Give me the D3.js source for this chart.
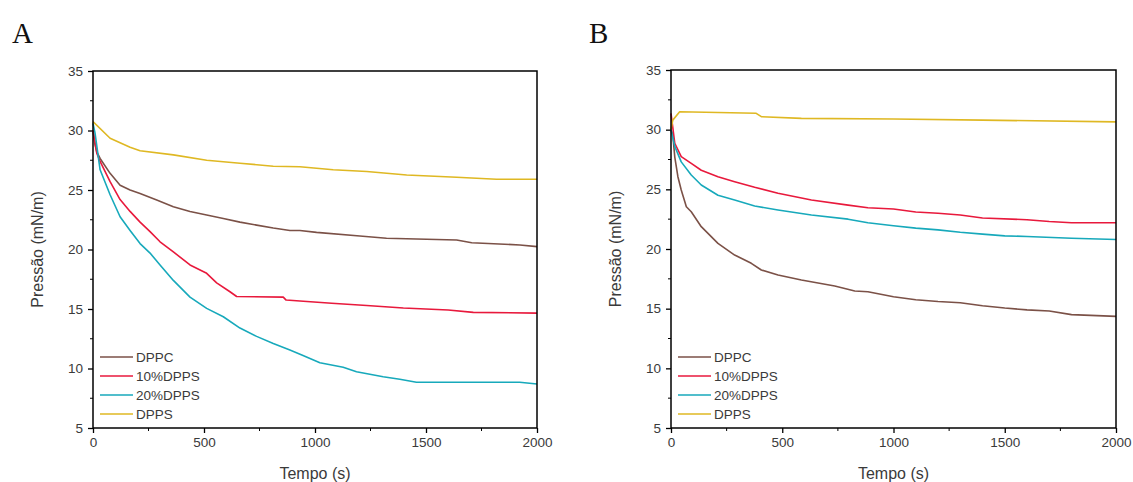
<!DOCTYPE html>
<html>
<head>
<meta charset="utf-8">
<script src="https://cdn.jsdelivr.net/npm/d3@7"></script>
<style>
  body { margin: 0; background: #fff; }
  svg { display: block; }
</style>
</head>
<body>
<svg id="chart" width="1133" height="482"></svg>
<script>
// series names, colours, axis ticks
var seriesNames = ["DPPC", "10%DPPS", "20%DPPS", "DPPS"];
var seriesColors = ["#7b5147", "#e8193c", "#17a9bb", "#dfb823"];
var xTicks = [0, 500, 1000, 1500, 2000];
var yTicks = [5, 10, 15, 20, 25, 30, 35];

// panel A  [tempo (s), pressao (mN/m)]
var A_DPPC = [[0,30.0],[8,28.9],[17,28.2],[32,27.65],[77,26.4],[122,25.4],[167,25.0],[212,24.7],[287,24.15],[362,23.6],[437,23.2],[512,22.9],[587,22.6],[662,22.3],[737,22.05],[812,21.8],[887,21.6],[932,21.6],[1007,21.44],[1202,21.13],[1322,20.94],[1638,20.8],[1706,20.57],[1923,20.38],[2000,20.24]];
var A_10DPPS = [[0,30.0],[17,28.1],[32,27.4],[77,25.7],[122,24.2],[167,23.2],[212,22.3],[257,21.5],[302,20.65],[362,19.8],[437,18.7],[512,18.0],[557,17.2],[617,16.45],[647,16.05],[857,16.0],[870,15.75],[932,15.67],[1075,15.48],[1233,15.3],[1398,15.08],[1600,14.92],[1713,14.72],[2000,14.65]];
var A_20DPPS = [[0,30.6],[9,29.8],[32,26.7],[77,24.6],[122,22.75],[167,21.6],[212,20.5],[257,19.7],[302,18.7],[362,17.4],[437,16.0],[512,15.05],[587,14.35],[662,13.4],[737,12.7],[812,12.1],[887,11.55],[946,11.1],[1022,10.49],[1127,10.1],[1187,9.73],[1307,9.31],[1382,9.09],[1457,8.84],[1922,8.84],[2000,8.7]];
var A_DPPS = [[0,30.75],[77,29.35],[167,28.6],[212,28.3],[362,27.95],[512,27.5],[662,27.25],[812,27.0],[932,26.96],[1082,26.7],[1233,26.55],[1413,26.26],[1638,26.07],[1818,25.9],[2000,25.9]];

// panel B
var B_DPPC = [[0,30.0],[8,29.6],[17,27.7],[31,26.06],[46,24.94],[69,23.54],[91,23.12],[136,21.87],[211,20.47],[286,19.49],[361,18.8],[406,18.24],[481,17.82],[586,17.4],[736,16.9],[826,16.48],[885,16.42],[1000,16.0],[1100,15.75],[1200,15.6],[1300,15.5],[1400,15.25],[1500,15.05],[1600,14.9],[1700,14.8],[1800,14.5],[2000,14.35]];
var B_10DPPS = [[0,31.37],[17,28.86],[46,27.74],[91,27.18],[136,26.6],[211,26.06],[286,25.64],[376,25.17],[481,24.67],[631,24.1],[796,23.68],[885,23.46],[1000,23.35],[1100,23.1],[1200,23.0],[1300,22.85],[1400,22.6],[1600,22.45],[1700,22.3],[1800,22.2],[2000,22.2]];
var B_20DPPS = [[0,30.0],[17,28.6],[46,27.3],[91,26.2],[136,25.36],[211,24.5],[286,24.1],[376,23.6],[481,23.27],[631,22.85],[796,22.5],[885,22.2],[1000,21.95],[1100,21.75],[1200,21.6],[1300,21.4],[1400,21.25],[1500,21.1],[1600,21.05],[1800,20.9],[2000,20.8]];
var B_DPPS = [[0,30.0],[8,30.8],[39,31.5],[383,31.37],[406,31.09],[586,30.95],[1000,30.9],[1400,30.8],[2000,30.65]];

var panels = [
  { letter: "A", lx: 12, left: 93, right: 537, top: 71, bottom: 428, data: [A_DPPC, A_10DPPS, A_20DPPS, A_DPPS] },
  { letter: "B", lx: 589, left: 671, right: 1116, top: 70, bottom: 428, data: [B_DPPC, B_10DPPS, B_20DPPS, B_DPPS] }
];

var svg = d3.select("#chart");
var textColor = "#3a3a3a";

panels.forEach(function (p) {
  var x = d3.scaleLinear().domain([0, 2000]).range([p.left, p.right]);
  var y = d3.scaleLinear().domain([5, 35]).range([p.bottom, p.top]);

  // panel letter
  svg.append("text")
    .attr("x", p.lx).attr("y", 43)
    .attr("font-family", "Liberation Serif, serif")
    .attr("font-size", 29)
    .attr("fill", "#111")
    .text(p.letter);

  // minor ticks
  var g = svg.append("g");
  g.selectAll(".mx").data(d3.range(250, 2000, 500)).enter().append("line")
    .attr("x1", function (d) { return x(d); }).attr("x2", function (d) { return x(d); })
    .attr("y1", p.bottom).attr("y2", p.bottom + 3)
    .attr("stroke", "#000").attr("stroke-width", 1);
  g.selectAll(".my").data(d3.range(7.5, 35, 5)).enter().append("line")
    .attr("y1", function (d) { return y(d); }).attr("y2", function (d) { return y(d); })
    .attr("x1", p.left).attr("x2", p.left - 3)
    .attr("stroke", "#000").attr("stroke-width", 1);

  // X axis
  var gx = svg.append("g")
    .attr("transform", "translate(0," + p.bottom + ")")
    .call(d3.axisBottom(x).tickValues(xTicks).tickFormat(d3.format("d"))
      .tickSize(5).tickPadding(4).tickSizeOuter(0));
  // Y axis
  var gy = svg.append("g")
    .attr("transform", "translate(" + p.left + ",0)")
    .call(d3.axisLeft(y).tickValues(yTicks).tickFormat(d3.format("d"))
      .tickSize(5).tickPadding(5).tickSizeOuter(0));

  [gx, gy].forEach(function (a) {
    a.select(".domain").remove();
    a.selectAll(".tick line").attr("stroke", "#000").attr("stroke-width", 1.3);
    a.selectAll(".tick text")
      .attr("fill", textColor)
      .attr("font-family", "Liberation Sans, Arial, sans-serif")
      .attr("font-size", 13.5);
  });

  // lines
  var line = d3.line()
    .x(function (d) { return x(d[0]); })
    .y(function (d) { return y(d[1]); });

  p.data.forEach(function (s, i) {
    svg.append("path")
      .attr("fill", "none")
      .attr("stroke", seriesColors[i])
      .attr("stroke-width", 1.6)
      .attr("stroke-linejoin", "round")
      .attr("d", line(s));
  });

  // frame
  svg.append("rect")
    .attr("x", p.left).attr("y", p.top)
    .attr("width", p.right - p.left).attr("height", p.bottom - p.top)
    .attr("fill", "none").attr("stroke", "#000").attr("stroke-width", 1.5);

  // axis titles
  svg.append("text")
    .attr("x", (p.left + p.right) / 2).attr("y", 479)
    .attr("text-anchor", "middle")
    .attr("font-family", "Liberation Sans, Arial, sans-serif")
    .attr("font-size", 16)
    .attr("fill", textColor)
    .text("Tempo (s)");
  svg.append("text")
    .attr("transform", "translate(" + (p.left - 50) + "," + ((p.top + p.bottom) / 2) + ") rotate(-90)")
    .attr("text-anchor", "middle")
    .attr("font-family", "Liberation Sans, Arial, sans-serif")
    .attr("font-size", 16)
    .attr("fill", textColor)
    .text("Pressão (mN/m)");

  // legend
  var lg = svg.append("g").attr("transform", "translate(" + (p.left + 7) + ",357)");
  seriesNames.forEach(function (n, i) {
    lg.append("line")
      .attr("x1", 0).attr("x2", 33)
      .attr("y1", i * 19).attr("y2", i * 19)
      .attr("stroke", seriesColors[i]).attr("stroke-width", 1.6);
    lg.append("text")
      .attr("x", 36).attr("y", i * 19 + 5)
      .attr("font-family", "Liberation Sans, Arial, sans-serif")
      .attr("font-size", 13.5)
      .attr("fill", textColor)
      .text(n);
  });
});
</script>
</body>
</html>
